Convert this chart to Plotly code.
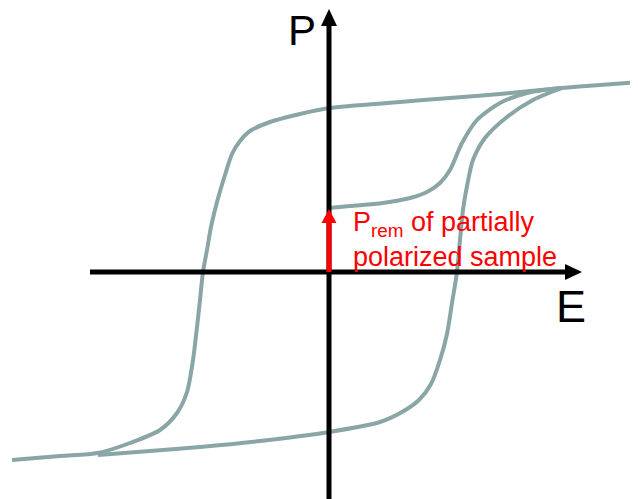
import plotly.graph_objects as go

# Hysteresis loop (schematic), coordinates: E horizontal, P vertical, origin at axes crossing
desc_E = [309, 271, 233, 171, 121, 71, 0, -29, -59, -79, -89, -97, -104, -112, -118, -122, -126,
          -129, -132, -136, -142, -152, -169, -199, -231, -269, -317]
desc_P = [190, 187, 184, 178, 174, 170, 164, 158, 150, 141, 131, 118, 97, 70, 45, 22, 0,
          -28, -55, -88, -120, -141, -158, -171, -181, -184, -188]

asc_E = [-231, -179, -129, -69, 0, 51, 73, 90, 102, 111, 118, 123, 128, 131, 134, 138, 144,
         156, 178, 204, 233]
asc_P = [-183, -179, -175, -169, -160, -150, -140, -128, -112, -88, -62, -31, 0, 32, 62, 86, 112,
         134, 155, 172, 184]

minor_E = [0, 21, 54, 81, 98, 111, 121, 133, 148, 171, 198, 231]
minor_P = [64, 66, 69, 74, 80, 89, 102, 129, 152, 169, 179, 184]

P_rem = 63
labels = {"P": "P", "E": "E"}
note_line1 = "P<sub>rem</sub> of partially"
note_line2 = "polarized sample"

curve_color = "#89A5A6"
FONT = "Liberation Sans, Arial, sans-serif"

fig = go.Figure()
for xs, ys in [(desc_E, desc_P), (asc_E, asc_P), (minor_E, minor_P)]:
    fig.add_trace(go.Scatter(x=xs, y=ys, mode="lines",
                             line=dict(color=curve_color, width=4, shape="spline", smoothing=0.8),
                             hoverinfo="skip", showlegend=False))

shapes = []
# vertical axis
shapes.append(dict(type="line", x0=0, x1=0, y0=-240, y1=247, xref="x", yref="y",
                   line=dict(color="black", width=5), layer="above"))
shapes.append(dict(type="path", path="M -8,246 L 8,246 L 0,263 Z", xref="x", yref="y",
                   fillcolor="black", line=dict(width=0), layer="above"))
# horizontal axis
shapes.append(dict(type="line", x0=-239, x1=237, y0=0, y1=0, xref="x", yref="y",
                   line=dict(color="black", width=5), layer="above"))
shapes.append(dict(type="path", path="M 236,-8 L 236,8 L 253,0 Z", xref="x", yref="y",
                   fillcolor="black", line=dict(width=0), layer="above"))
# red P_rem arrow
shapes.append(dict(type="line", x0=0, x1=0, y0=0, y1=P_rem - 13, xref="x", yref="y",
                   line=dict(color="red", width=5), layer="above"))
shapes.append(dict(type="path", path=f"M -7.5,{P_rem-14} L 7.5,{P_rem-14} L 0,{P_rem} Z",
                   xref="x", yref="y", fillcolor="red", line=dict(width=0), layer="above"))

annotations = [
    dict(x=-27, y=242, xref="x", yref="y", text=labels["P"], showarrow=False,
         xanchor="center", yanchor="middle", font=dict(family=FONT, size=42, color="black")),
    dict(x=242, y=-34, xref="x", yref="y", text=labels["E"], showarrow=False,
         xanchor="center", yanchor="middle", font=dict(family=FONT, size=45, color="black")),
    dict(x=22, y=48, xref="x", yref="y", text=note_line1, showarrow=False,
         xanchor="left", yanchor="middle", font=dict(family=FONT, size=27, color="red")),
    dict(x=22, y=15, xref="x", yref="y", text=note_line2, showarrow=False,
         xanchor="left", yanchor="middle", font=dict(family=FONT, size=27, color="red")),
]

# the page shows the figure offset by 8px; ranges compensate so the origin lands at (329, 272)
fig.update_layout(
    width=638, height=499,
    margin=dict(l=0, r=0, t=0, b=0),
    paper_bgcolor="white", plot_bgcolor="white",
    xaxis=dict(range=[-321, 317], visible=False, fixedrange=True),
    yaxis=dict(range=[-235, 264], visible=False, fixedrange=True),
    shapes=shapes, annotations=annotations,
)
fig.write_html("out.html")
